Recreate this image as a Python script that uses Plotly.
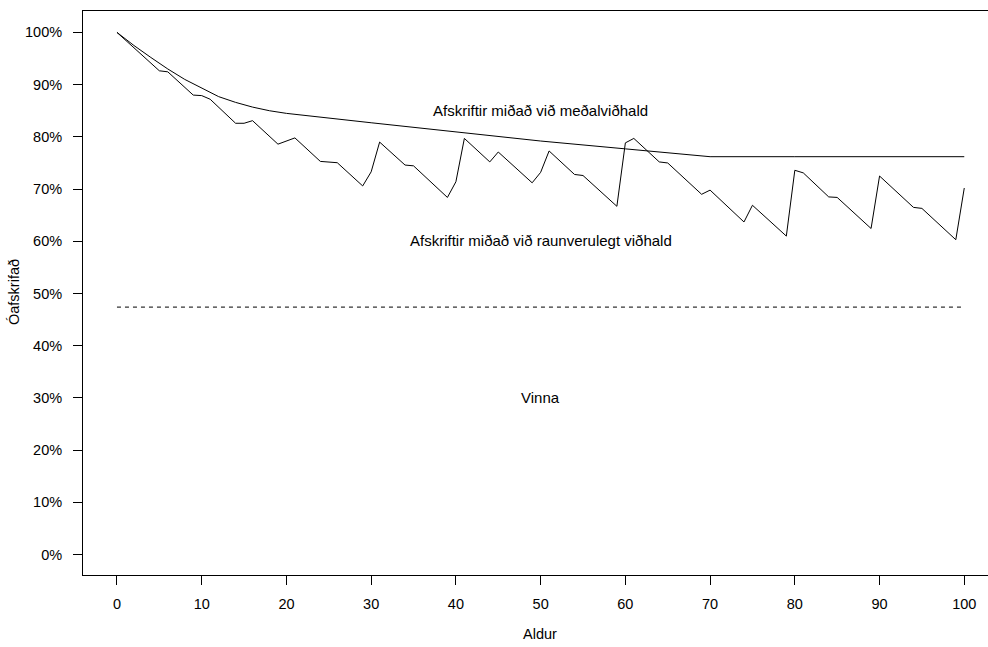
import plotly.graph_objects as go

# Smooth line: depreciation based on average maintenance
avg_age = [0, 2, 4, 6, 8, 10, 12, 14, 16, 18, 20, 30, 40, 50, 60, 70, 80, 90, 100]
avg_val = [100, 97.5, 95.2, 93.0, 91.0, 89.3, 87.7, 86.6, 85.7, 85.0, 84.5,
           82.7, 80.9, 79.2, 77.7, 76.2, 76.2, 76.2, 76.2]

# Jagged line: depreciation based on actual maintenance
act_age = [0, 5, 6, 9, 10, 11, 14, 15, 16, 19, 21, 24, 26, 29, 30, 31, 34, 35, 39, 40,
           41, 44, 45, 49, 50, 51, 54, 55, 59, 60, 61, 64, 65, 69, 70, 74, 75, 79, 80,
           81, 84, 85, 89, 90, 94, 95, 99, 100]
act_val = [100, 92.65, 92.45, 88.0, 87.9, 87.2, 82.6, 82.6, 83.1, 78.6, 79.8, 75.3, 75.05,
           70.6, 73.3, 79.0, 74.6, 74.45, 68.4, 71.4, 79.7, 75.2, 77.1, 71.2, 73.2, 77.3,
           72.8, 72.6, 66.7, 78.85, 79.7, 75.2, 75.0, 69.0, 69.8, 63.7, 66.9, 61.0, 73.6,
           73.1, 68.5, 68.4, 62.45, 72.5, 66.5, 66.3, 60.3, 70.2]

# Horizontal dashed line (Vinna)
gain_age = [0, 100]
gain_val = [47.4, 47.4]

x_ticks = [0, 10, 20, 30, 40, 50, 60, 70, 80, 90, 100]
y_ticks = [0, 10, 20, 30, 40, 50, 60, 70, 80, 90, 100]
y_tick_text = [f"{v}%" for v in y_ticks]

labels = [
    (50, 85, "Afskriftir miðað við meðalviðhald"),
    (50, 60.2, "Afskriftir miðað við raunverulegt viðhald"),
    (50, 30, "Vinna"),
]

FONT = "Liberation Sans, Arial, Helvetica, sans-serif"
FS = 14.5
FS_LAB = 15

PL, PR, PT, PB = 83, 988, 11, 575  # plot area in pixels

fig = go.Figure()
fig.add_trace(go.Scatter(x=avg_age, y=avg_val, mode="lines",
                         line=dict(color="black", width=1), showlegend=False))
fig.add_trace(go.Scatter(x=act_age, y=act_val, mode="lines",
                         line=dict(color="black", width=1), showlegend=False))
fig.add_trace(go.Scatter(x=gain_age, y=gain_val, mode="lines",
                         line=dict(color="black", width=1, dash="4px,4px"), showlegend=False))

for x, y, t in labels:
    fig.add_annotation(x=x, y=y, text=t, showarrow=False, xref="x", yref="y",
                       font=dict(size=FS_LAB, color="black", family=FONT))

# x-axis title
fig.add_annotation(x=(540 - PL) / (PR - PL), y=-(634 - PB) / (PB - PT),
                   text="Aldur", showarrow=False, xref="paper", yref="paper",
                   xanchor="center", yanchor="middle",
                   font=dict(size=FS, color="black", family=FONT))
# y-axis title
fig.add_annotation(x=(14 - PL) / (PR - PL), y=(PB - 292) / (PB - PT),
                   text="Óafskrifað", showarrow=False, xref="paper", yref="paper",
                   xanchor="center", yanchor="middle", textangle=-90,
                   font=dict(size=FS, color="black", family=FONT))

fig.update_layout(
    width=988, height=647,
    margin=dict(l=PL, r=988 - PR, t=PT, b=647 - PB),
    plot_bgcolor="white", paper_bgcolor="white",
    font=dict(family=FONT, size=FS, color="black"),
    xaxis=dict(range=[-4.01, 102.8], tickvals=x_ticks, ticks="outside", ticklen=9,
               tickcolor="black", showline=True, linecolor="black", linewidth=1, mirror=True,
               showgrid=False, zeroline=False, ticklabelstandoff=7,
               tickfont=dict(size=FS)),
    yaxis=dict(range=[-3.9, 104.1], tickvals=y_ticks, ticktext=y_tick_text, ticks="outside",
               ticklen=9, tickcolor="black", showline=True, linecolor="black", linewidth=1,
               mirror=False, showgrid=False, zeroline=False, ticklabelstandoff=8,
               tickfont=dict(size=FS)),
)

fig.write_html("out.html")
